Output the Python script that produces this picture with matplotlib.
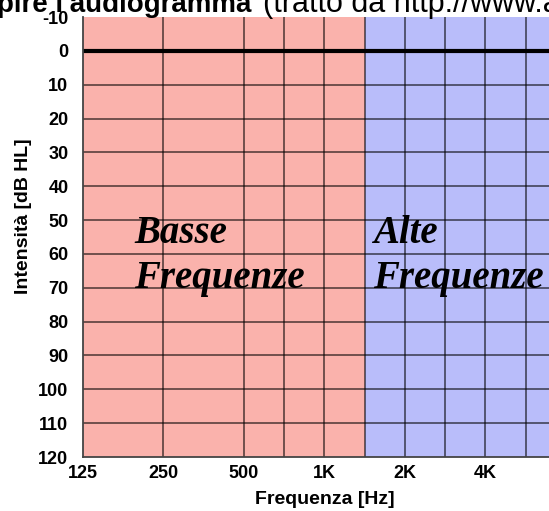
import matplotlib
matplotlib.use("Agg")
import matplotlib.pyplot as plt

# frequency axis: octaves plus half-octave positions (audiogram layout)
freq_pos = [0, 1, 2, 2.5, 3, 3.5, 4, 4.5, 5, 5.5, 6]
freq_names = ['125', '250', '500', '750', '1K', '1.5K', '2K', '3K', '4K', '6K', '8K']
tick_pos = [0, 1, 2, 3, 4, 5]
tick_labels = ['125', '250', '500', '1K', '2K', '4K']

db_ticks = list(range(-10, 130, 10))
db_grid = list(range(10, 120, 10))

# frequency bands
low_band = (0, 3.5)
high_band = (3.5, 6)
band_names = [['Basse', 'Frequenze'], ['Alte', 'Frequenze']]
band_text_x = [0.64, 3.6]
band_text_y = [56.8, 70.0]

pink = '#FAB2AC'
blue = '#B9BDFA'
sans = 'Liberation Sans'

fig = plt.figure(figsize=(5.49, 5.11), dpi=100)
W, H = 549, 511
ax = fig.add_axes([83 / W, 1 - 457 / H, 483 / W, 440 / H])

ax.axvspan(*low_band, color=pink, lw=0, zorder=0)
ax.axvspan(*high_band, color=blue, lw=0, zorder=0)

ax.vlines(freq_pos[1:], -10, 120, colors='black', alpha=0.55, lw=1.4, zorder=1)
ax.hlines(db_grid, 0, 6, colors='black', alpha=0.55, lw=1.4, zorder=1)
ax.hlines([0], 0, 6, colors='black', lw=3, zorder=2)

ax.set_xlim(0, 6)
ax.set_ylim(120, -10)
ax.set_xticks(tick_pos)
ax.set_xticklabels(tick_labels, family=sans, weight='bold', fontsize=13)
ax.set_yticks(db_ticks)
ax.set_yticklabels([str(v) for v in db_ticks], family=sans, weight='bold', fontsize=13)
ax.tick_params(axis='y', length=0, pad=10.5)
ax.tick_params(axis='x', length=0, pad=6)

for s in ['top', 'right']:
    ax.spines[s].set_visible(False)
for s in ['left', 'bottom']:
    ax.spines[s].set_color('#444444')
    ax.spines[s].set_linewidth(1.3)

ax.set_xlabel('Frequenza [Hz]', family=sans, weight='bold', fontsize=14, labelpad=6)
ax.set_ylabel('Intensità [dB HL]', family=sans, weight='bold', fontsize=14)
ax.yaxis.set_label_coords(-(83 - 32) / 483, 0.5 + (237 - 216) / 440)

for bx, words in zip(band_text_x, band_names):
    for by, w in zip(band_text_y, words):
        ax.text(bx, by, w, family='Liberation Serif', style='italic', weight='bold',
                fontsize=28, va='baseline', ha='left', zorder=3)

# title, cut off at the top-left as in the source
fig.text(-3 / W, 1 - 12 / H, "pire l'audiogramma", family=sans,
         weight='bold', fontsize=20, va='baseline', ha='left')
fig.text(263 / W, 1 - 12 / H, "(tratto da http://www.a", family=sans,
         fontsize=22, va='baseline', ha='left')

fig.savefig('out.png', dpi=100)
